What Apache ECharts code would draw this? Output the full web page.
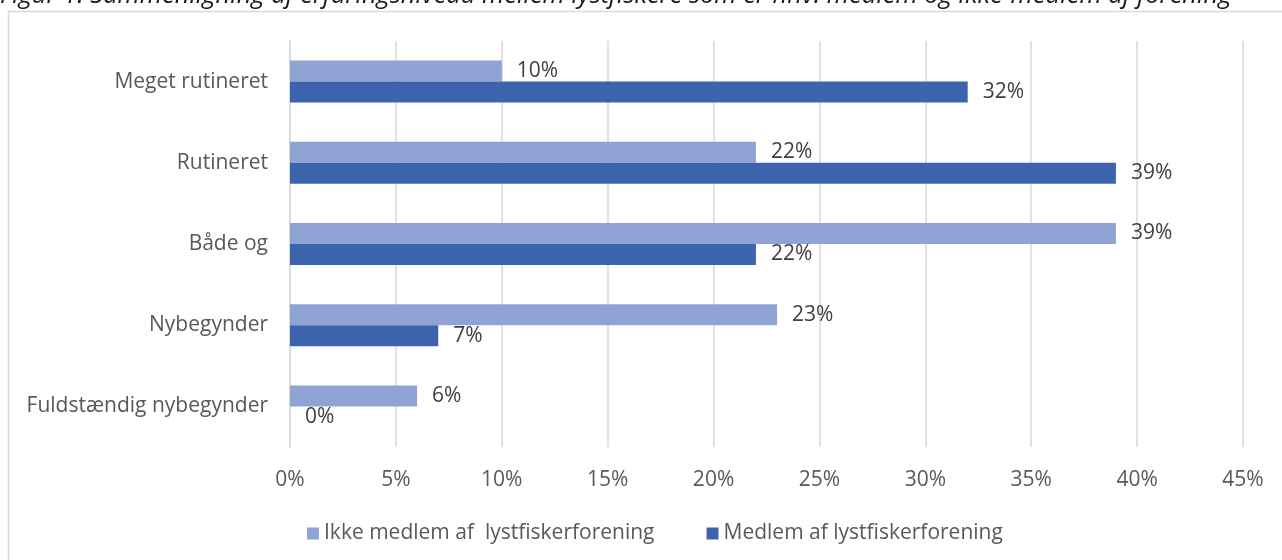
<!DOCTYPE html>
<html>
<head>
<meta charset="utf-8">
<script src="https://cdn.jsdelivr.net/npm/echarts@6/dist/echarts.min.js"></script>
<style>
html,body{margin:0;padding:0;background:#fff;}
#c{width:1282px;height:560px;}
</style>
</head>
<body>
<div id="c"></div>
<script>
const titleText = 'Figur 1: Sammenligning af erfaringsniveau mellem lystfiskere som er hhv. medlem og ikke-medlem af forening';
const categories = ['Meget rutineret', 'Rutineret', 'Både og', 'Nybegynder', 'Fuldstændig nybegynder'];
const seriesNames = ['Ikke medlem af  lystfiskerforening', 'Medlem af lystfiskerforening'];
const ikkeMedlem = [10, 22, 39, 23, 6];
const medlem = [32, 39, 22, 7, 0];
const xTicks = [0, 5, 10, 15, 20, 25, 30, 35, 40, 45];

const FONT = '"Open Sans", "Liberation Sans", sans-serif';
const FS = 21;
const chart = echarts.init(document.getElementById('c'), null, {renderer: 'canvas'});
const labelStyle = {
  show: true, position: 'right', distance: 15,
  formatter: p => p.value + '%', color: '#404040', fontSize: FS, fontFamily: FONT
};
chart.setOption({
  animation: false,
  backgroundColor: '#fff',
  graphic: [
    {type: 'rect', shape: {x: 8.5, y: 11.5, width: 1400, height: 700}, style: {fill: 'none', stroke: '#D9D9D9', lineWidth: 1.5}, z: 0},
    {type: 'text', x: 0, y: 9, style: {text: titleText, font: 'italic 25.5px ' + FONT, fill: '#1a1a1a', textVerticalAlign: 'bottom'}, z: 10}
  ],
  grid: {left: 290, right: 1282 - 1243, top: 41, bottom: 560 - 447, containLabel: false},
  legend: {
    left: 302, top: 518, itemWidth: 12, itemHeight: 12, itemGap: 52,
    icon: 'rect',
    textStyle: {color: '#595959', fontSize: FS, fontFamily: FONT},
    data: seriesNames
  },
  xAxis: {
    type: 'value', min: 0, max: 45, interval: 5,
    axisLine: {show: false}, axisTick: {show: false},
    splitLine: {lineStyle: {color: '#D9D9D9', width: 1.5}},
    axisLabel: {formatter: v => v + '%', color: '#595959', fontSize: FS, fontFamily: FONT, margin: 23}
  },
  yAxis: {
    type: 'category', data: categories, inverse: true,
    axisLine: {show: true, lineStyle: {color: '#D9D9D9', width: 1.5}},
    axisTick: {show: false},
    axisLabel: {color: '#595959', fontSize: FS, fontFamily: FONT, margin: 22}
  },
  series: [
    {name: seriesNames[0], type: 'bar', data: ikkeMedlem, barWidth: 21, barGap: '0%',
     itemStyle: {color: '#8FA3D4'}, label: labelStyle},
    {name: seriesNames[1], type: 'bar', data: medlem, barWidth: 21, barGap: '0%',
     itemStyle: {color: '#3C64AD'}, label: labelStyle}
  ]
});
</script>
</body>
</html>
